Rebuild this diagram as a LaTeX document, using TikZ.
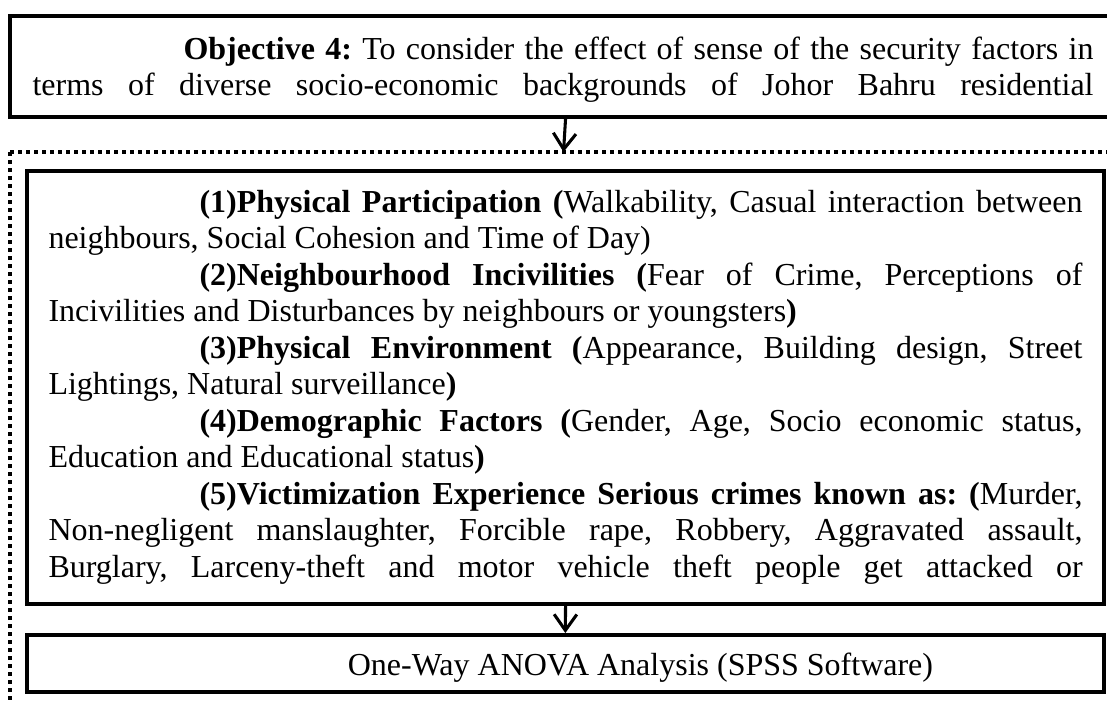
\documentclass[tikz,border=0pt]{standalone}
\usepackage{fontspec}
\setmainfont{Liberation Serif}
\usetikzlibrary{arrows.meta}
\newdimen\pxu \pxu=0.375pt
\newcommand\boxpar[1]{\frenchspacing\tolerance=10000 \hbadness=10000 \hyphenpenalty=10000 \exhyphenpenalty=10000 \parskip=0pt #1}
\begin{document}
\begin{tikzpicture}[x=0.375pt,y=-0.375pt,
  solidbox/.style={draw, line width=1.5pt, inner sep=0pt, anchor=north west},
  dotline/.style={line width=1.5pt, dash pattern=on 1.5pt off 1.5pt},
  arr/.style={line width=1.15pt, -{Straight Barb[length=6pt,width=8.5pt]}},
  txt/.style={inner sep=0pt, anchor=base west, font=\fontsize{12pt}{13.69pt}\selectfont}]
\useasboundingbox (0,0) rectangle (1107,700);

% top objective box
\node[solidbox, minimum width=420.75pt, minimum height=37.875pt] (obj) at (8,14) {};
\node[txt] (objtext) at (32,59) {\parbox[t]{1061\pxu}{\boxpar{%
\noindent\hspace*{151\pxu}\textbf{Objective 4:} To consider the effect of sense of the security factors in\linebreak
{\parfillskip=0pt terms of diverse socio-economic backgrounds of Johor Bahru residential\par}}}};

% dotted outer frame
\coordinate (dcorner) at (10,152);
\coordinate (dtop) at (563.5,152);
\draw[dotline] (dcorner) -- (1120,152);
\draw[dotline] (dcorner) -- (10,720);

% factors box
\node[solidbox, minimum width=403.9pt, minimum height=162.4pt] (factors) at (25,169) {};
\node[txt] (factext) at (48,212) {\parbox[t]{1034\pxu}{\boxpar{%
\noindent\hspace*{151\pxu}\textbf{(1)Physical Participation (}Walkability, Casual interaction between\linebreak
neighbours, Social Cohesion and Time of Day)\par
\noindent\hspace*{151\pxu}\textbf{(2)Neighbourhood Incivilities (}Fear of Crime, Perceptions of\linebreak
Incivilities and Disturbances by neighbours or youngsters\textbf{)}\par
\noindent\hspace*{151\pxu}\textbf{(3)Physical Environment (}Appearance, Building design, Street\linebreak
Lightings, Natural surveillance\textbf{)}\par
\noindent\hspace*{151\pxu}\textbf{(4)Demographic Factors (}Gender, Age, Socio economic status,\linebreak
Education and Educational status\textbf{)}\par
{\parfillskip=0pt \noindent\hspace*{151\pxu}\textbf{(5)Victimization Experience Serious crimes known as: (}Murder,\linebreak
Non-negligent manslaughter, Forcible rape, Robbery, Aggravated assault,\linebreak
Burglary, Larceny-theft and motor vehicle theft people get attacked or\par}}}};

% analysis box
\node[solidbox, line width=1.35pt, minimum width=403.9pt, minimum height=21.375pt] (anova) at (25,633) {};
\begin{scope}
\clip (25,633) rectangle (1102,681);
\node[txt, anchor=base] (anovatext) at (640.5,675) {One-Way ANOVA Analysis (SPSS Software)};
\end{scope}

% arrows
\draw[arr] (obj.south -| factors.north) -- (dtop);
\draw[arr] (factors.south) -- (anova.north);
\end{tikzpicture}
\end{document}
